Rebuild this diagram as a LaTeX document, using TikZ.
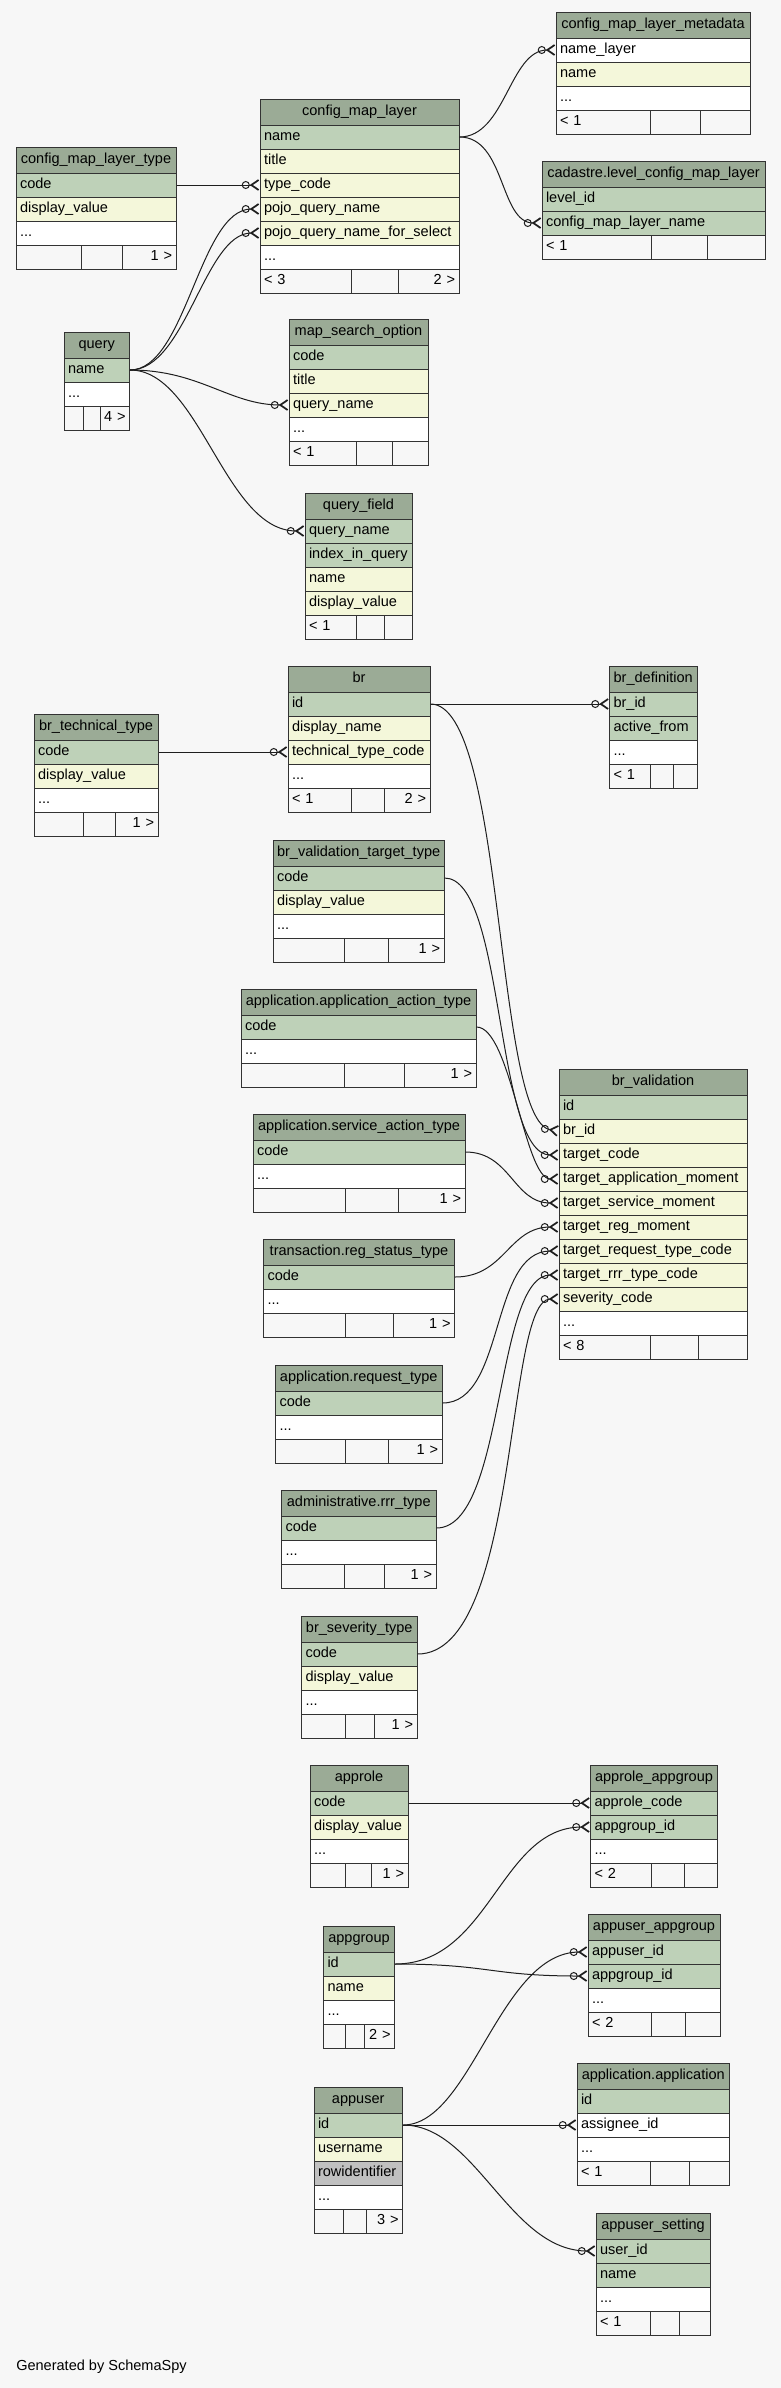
\documentclass[tikz,border=0pt]{standalone}
\usepackage{fontspec}
\setmainfont{Liberation Sans}
\usetikzlibrary{arrows.meta}
\hyphenpenalty=10000
\exhyphenpenalty=10000
\tikzset{crowodot/.tip={Circle[open,length=6pt,width=6pt,sep=0pt] Straight Barb[reversed,length=5.5pt,width=7.5pt,line width=1.3pt]}}

\begin{document}
\begin{tikzpicture}[x=0.75pt,y=0.75pt,yscale=-1,xscale=1,
  every node/.style={font=\fontsize{10.9}{13}\selectfont},
  rowc/.style={draw={rgb, 255:red, 51; green, 51; blue, 51 }, line width=0.75pt, minimum height=18pt, inner xsep=3pt, inner ysep=0pt, text height=8pt, text depth=2.5pt, align=left},
  tw/.style={text width=#1*0.75pt-6pt},
  hdr/.style={rowc, fill={rgb, 255:red, 155; green, 171; blue, 150 }, minimum height=19.5pt, align=center},
  pk/.style={rowc, fill={rgb, 255:red, 190; green, 209; blue, 184 }},
  idx/.style={rowc, fill={rgb, 255:red, 244; green, 247; blue, 218 }},
  col/.style={rowc, fill=white},
  gry/.style={rowc, fill={rgb, 255:red, 192; green, 192; blue, 192 }},
  ftl/.style={rowc, fill={rgb, 255:red, 247; green, 247; blue, 247 }, align=left},
  ftr/.style={rowc, fill={rgb, 255:red, 247; green, 247; blue, 247 }, align=right},
  fk/.style={draw={rgb, 255:red, 30; green, 30; blue, 30 }, line width=0.75pt, -{crowodot}}]

\path [use as bounding box, fill={rgb, 255:red, 247; green, 247; blue, 247 }] (0,0) rectangle (781,2388);

\begin{scope}[tw=194]
\node [hdr] (cmlm-h) at (653,25) {config\_map\_layer\_metadata};
\node [col] (cmlm-namelayer) at (653,50) {name\_layer};
\node [idx] (cmlm-name) at (653,74) {name};
\node [col] (cmlm-more) at (653,98) {...};
\node [ftl,tw=94] (cmlm-f1) at (603,122) {< 1};
\node [ftl,tw=50] (cmlm-f2) at (675,122) {};
\node [ftr,tw=50] (cmlm-f3) at (725,122) {};
\end{scope}

\begin{scope}[tw=199]
\node [hdr] (cml-h) at (359.5,112) {config\_map\_layer};
\node [pk] (cml-name) at (359.5,137) {name};
\node [idx] (cml-title) at (359.5,161) {title};
\node [idx] (cml-typecode) at (359.5,185) {type\_code};
\node [idx] (cml-pojo) at (359.5,209) {pojo\_query\_name};
\node [idx] (cml-pojosel) at (359.5,233) {pojo\_query\_name\_for\_select};
\node [col] (cml-more) at (359.5,257) {...};
\node [ftl,tw=91] (cml-f1) at (305.5,281) {< 3};
\node [ftl,tw=47] (cml-f2) at (374.5,281) {};
\node [ftr,tw=61] (cml-f3) at (428.5,281) {2 >};
\end{scope}

\begin{scope}[tw=160]
\node [hdr] (cmlt-h) at (96,160) {config\_map\_layer\_type};
\node [pk] (cmlt-code) at (96,185) {code};
\node [idx] (cmlt-display) at (96,209) {display\_value};
\node [col] (cmlt-more) at (96,233) {...};
\node [ftl,tw=65] (cmlt-f1) at (48.5,257) {};
\node [ftl,tw=41.5] (cmlt-f2) at (101.75,257) {};
\node [ftr,tw=53.5] (cmlt-f3) at (149.25,257) {1 >};
\end{scope}

\begin{scope}[tw=223]
\node [hdr] (lcml-h) at (653.5,174) {cadastre.level\_config\_map\_layer};
\node [pk] (lcml-levelid) at (653.5,199) {level\_id};
\node [pk] (lcml-cmlname) at (653.5,223) {config\_map\_layer\_name};
\node [ftl,tw=109] (lcml-f1) at (596.5,247) {< 1};
\node [ftl,tw=56] (lcml-f2) at (679,247) {};
\node [ftr,tw=58] (lcml-f3) at (736,247) {};
\end{scope}

\begin{scope}[tw=65.5]
\node [hdr] (query-h) at (96.75,345) {query};
\node [pk] (query-name) at (96.75,370) {name};
\node [col] (query-more) at (96.75,394) {...};
\node [ftl,tw=19] (query-f1) at (73.5,418) {};
\node [ftl,tw=17] (query-f2) at (91.5,418) {};
\node [ftr,tw=29.5] (query-f3) at (114.75,418) {4 >};
\end{scope}

\begin{scope}[tw=139]
\node [hdr] (mso-h) at (358.5,332) {map\_search\_option};
\node [pk] (mso-code) at (358.5,357) {code};
\node [idx] (mso-title) at (358.5,381) {title};
\node [idx] (mso-queryname) at (358.5,405) {query\_name};
\node [col] (mso-more) at (358.5,429) {...};
\node [ftl,tw=67] (mso-f1) at (322.5,453) {< 1};
\node [ftl,tw=36] (mso-f2) at (374,453) {};
\node [ftr,tw=36] (mso-f3) at (410,453) {};
\end{scope}

\begin{scope}[tw=107]
\node [hdr] (qf-h) at (358.5,506) {query\_field};
\node [pk] (qf-queryname) at (358.5,531) {query\_name};
\node [pk] (qf-index) at (358.5,555) {index\_in\_query};
\node [idx] (qf-name) at (358.5,579) {name};
\node [idx] (qf-display) at (358.5,603) {display\_value};
\node [ftl,tw=51] (qf-f1) at (330.5,627) {< 1};
\node [ftl,tw=28] (qf-f2) at (370,627) {};
\node [ftr,tw=28] (qf-f3) at (398,627) {};
\end{scope}

\begin{scope}[tw=142]
\node [hdr] (br-h) at (359,679) {br};
\node [pk] (br-id) at (359,704) {id};
\node [idx] (br-display) at (359,728) {display\_name};
\node [idx] (br-ttc) at (359,752) {technical\_type\_code};
\node [col] (br-more) at (359,776) {...};
\node [ftl,tw=63] (br-f1) at (319.5,800) {< 1};
\node [ftl,tw=33] (br-f2) at (367.5,800) {};
\node [ftr,tw=46] (br-f3) at (407,800) {2 >};
\end{scope}

\begin{scope}[tw=87.5]
\node [hdr] (brd-h) at (653.25,679) {br\_definition};
\node [pk] (brd-brid) at (653.25,704) {br\_id};
\node [pk] (brd-active) at (653.25,728) {active\_from};
\node [col] (brd-more) at (653.25,752) {...};
\node [ftl,tw=40.5] (brd-f1) at (629.75,776) {< 1};
\node [ftl,tw=23] (brd-f2) at (661.5,776) {};
\node [ftr,tw=24] (brd-f3) at (685,776) {};
\end{scope}

\begin{scope}[tw=124]
\node [hdr] (brtt-h) at (96,727) {br\_technical\_type};
\node [pk] (brtt-code) at (96,752) {code};
\node [idx] (brtt-display) at (96,776) {display\_value};
\node [col] (brtt-more) at (96,800) {...};
\node [ftl,tw=49] (brtt-f1) at (58.5,824) {};
\node [ftl,tw=32] (brtt-f2) at (99,824) {};
\node [ftr,tw=43] (brtt-f3) at (136.5,824) {1 >};
\end{scope}

\begin{scope}[tw=171]
\node [hdr] (bvtt-h) at (358.5,853) {br\_validation\_target\_type};
\node [pk] (bvtt-code) at (358.5,878) {code};
\node [idx] (bvtt-display) at (358.5,902) {display\_value};
\node [col] (bvtt-more) at (358.5,926) {...};
\node [ftl,tw=71] (bvtt-f1) at (308.5,950) {};
\node [ftl,tw=44] (bvtt-f2) at (366,950) {};
\node [ftr,tw=56] (bvtt-f3) at (416,950) {1 >};
\end{scope}

\begin{scope}[tw=235]
\node [hdr] (aat-h) at (358.5,1002) {application.application\_action\_type};
\node [pk] (aat-code) at (358.5,1027) {code};
\node [col] (aat-more) at (358.5,1051) {...};
\node [ftl,tw=103] (aat-f1) at (292.5,1075) {};
\node [ftl,tw=60] (aat-f2) at (374,1075) {};
\node [ftr,tw=72] (aat-f3) at (440,1075) {1 >};
\end{scope}

\begin{scope}[tw=212]
\node [hdr] (sat-h) at (359,1127) {application.service\_action\_type};
\node [pk] (sat-code) at (359,1152) {code};
\node [col] (sat-more) at (359,1176) {...};
\node [ftl,tw=92] (sat-f1) at (299,1200) {};
\node [ftl,tw=53] (sat-f2) at (371.5,1200) {};
\node [ftr,tw=67] (sat-f3) at (431.5,1200) {1 >};
\end{scope}

\begin{scope}[tw=191]
\node [hdr] (rst-h) at (359,1252) {transaction.reg\_status\_type};
\node [pk] (rst-code) at (359,1277) {code};
\node [col] (rst-more) at (359,1301) {...};
\node [ftl,tw=81.5] (rst-f1) at (304.25,1325) {};
\node [ftl,tw=48] (rst-f2) at (369,1325) {};
\node [ftr,tw=61.5] (rst-f3) at (423.75,1325) {1 >};
\end{scope}

\begin{scope}[tw=188]
\node [hdr] (brv-h) at (653,1082) {br\_validation};
\node [pk] (brv-id) at (653,1107) {id};
\node [idx] (brv-brid) at (653,1131) {br\_id};
\node [idx] (brv-tc) at (653,1155) {target\_code};
\node [idx] (brv-tam) at (653,1179) {target\_application\_moment};
\node [idx] (brv-tsm) at (653,1203) {target\_service\_moment};
\node [idx] (brv-trm) at (653,1227) {target\_reg\_moment};
\node [idx] (brv-trtc) at (653,1251) {target\_request\_type\_code};
\node [idx] (brv-trrr) at (653,1275) {target\_rrr\_type\_code};
\node [idx] (brv-sev) at (653,1299) {severity\_code};
\node [col] (brv-more) at (653,1323) {...};
\node [ftl,tw=91] (brv-f1) at (604.5,1347) {< 8};
\node [ftl,tw=48] (brv-f2) at (674,1347) {};
\node [ftr,tw=49] (brv-f3) at (722.5,1347) {};
\end{scope}

\begin{scope}[tw=166.5]
\node [hdr] (rqt-h) at (358.75,1378) {application.request\_type};
\node [pk] (rqt-code) at (358.75,1403) {code};
\node [col] (rqt-more) at (358.75,1427) {...};
\node [ftl,tw=69.5] (rqt-f1) at (310.25,1451) {};
\node [ftl,tw=43] (rqt-f2) at (366.5,1451) {};
\node [ftr,tw=54] (rqt-f3) at (415,1451) {1 >};
\end{scope}

\begin{scope}[tw=154.5]
\node [hdr] (rrr-h) at (358.75,1503) {administrative.rrr\_type};
\node [pk] (rrr-code) at (358.75,1528) {code};
\node [col] (rrr-more) at (358.75,1552) {...};
\node [ftl,tw=62.5] (rrr-f1) at (312.75,1576) {};
\node [ftl,tw=40] (rrr-f2) at (364,1576) {};
\node [ftr,tw=52] (rrr-f3) at (410,1576) {1 >};
\end{scope}

\begin{scope}[tw=115.5]
\node [hdr] (bst-h) at (359.25,1629) {br\_severity\_type};
\node [pk] (bst-code) at (359.25,1654) {code};
\node [idx] (bst-display) at (359.25,1678) {display\_value};
\node [col] (bst-more) at (359.25,1702) {...};
\node [ftl,tw=43.5] (bst-f1) at (323.25,1726) {};
\node [ftl,tw=29.5] (bst-f2) at (359.75,1726) {};
\node [ftr,tw=42.5] (bst-f3) at (395.75,1726) {1 >};
\end{scope}

\begin{scope}[tw=98]
\node [hdr] (approle-h) at (359,1778) {approle};
\node [pk] (approle-code) at (359,1803) {code};
\node [idx] (approle-display) at (359,1827) {display\_value};
\node [col] (approle-more) at (359,1851) {...};
\node [ftl,tw=35] (approle-f1) at (327.5,1875) {};
\node [ftl,tw=26] (approle-f2) at (358,1875) {};
\node [ftr,tw=37] (approle-f3) at (389.5,1875) {1 >};
\end{scope}

\begin{scope}[tw=127]
\node [hdr] (raag-h) at (654,1778) {approle\_appgroup};
\node [pk] (raag-approle) at (654,1803) {approle\_code};
\node [pk] (raag-appgroup) at (654,1827) {appgroup\_id};
\node [col] (raag-more) at (654,1851) {...};
\node [ftl,tw=60.5] (raag-f1) at (620.75,1875) {< 2};
\node [ftl,tw=33] (raag-f2) at (667.5,1875) {};
\node [ftr,tw=33.5] (raag-f3) at (700.75,1875) {};
\end{scope}

\begin{scope}[tw=71]
\node [hdr] (appgroup-h) at (359,1939) {appgroup};
\node [pk] (appgroup-id) at (359,1964) {id};
\node [idx] (appgroup-name) at (359,1988) {name};
\node [col] (appgroup-more) at (359,2012) {...};
\node [ftl,tw=21.5] (appgroup-f1) at (334.25,2036) {};
\node [ftl,tw=19] (appgroup-f2) at (354.5,2036) {};
\node [ftr,tw=30.5] (appgroup-f3) at (379.25,2036) {2 >};
\end{scope}

\begin{scope}[tw=132]
\node [hdr] (uag-h) at (654,1927) {appuser\_appgroup};
\node [pk] (uag-appuser) at (654,1952) {appuser\_id};
\node [pk] (uag-appgroup) at (654,1976) {appgroup\_id};
\node [col] (uag-more) at (654,2000) {...};
\node [ftl,tw=63] (uag-f1) at (619.5,2024) {< 2};
\node [ftl,tw=34] (uag-f2) at (668,2024) {};
\node [ftr,tw=35] (uag-f3) at (702.5,2024) {};
\end{scope}

\begin{scope}[tw=152.5]
\node [hdr] (app-h) at (653.25,2076) {application.application};
\node [pk] (app-id) at (653.25,2101) {id};
\node [col] (app-assignee) at (653.25,2125) {assignee\_id};
\node [col] (app-more) at (653.25,2149) {...};
\node [ftl,tw=73] (app-f1) at (613.5,2173) {< 1};
\node [ftl,tw=39] (app-f2) at (669.5,2173) {};
\node [ftr,tw=40.5] (app-f3) at (709.25,2173) {};
\end{scope}

\begin{scope}[tw=88.5]
\node [hdr] (appuser-h) at (358.25,2100) {appuser};
\node [pk] (appuser-id) at (358.25,2125) {id};
\node [idx] (appuser-username) at (358.25,2149) {username};
\node [gry] (appuser-rowid) at (358.25,2173) {rowidentifier};
\node [col] (appuser-more) at (358.25,2197) {...};
\node [ftl,tw=29.5] (appuser-f1) at (328.75,2221) {};
\node [ftl,tw=23] (appuser-f2) at (355,2221) {};
\node [ftr,tw=36] (appuser-f3) at (384.5,2221) {3 >};
\end{scope}

\begin{scope}[tw=114]
\node [hdr] (ust-h) at (653,2226) {appuser\_setting};
\node [pk] (ust-userid) at (653,2251) {user\_id};
\node [pk] (ust-name) at (653,2275) {name};
\node [col] (ust-more) at (653,2299) {...};
\node [ftl,tw=54] (ust-f1) at (623,2323) {< 1};
\node [ftl,tw=29] (ust-f2) at (664.5,2323) {};
\node [ftr,tw=31] (ust-f3) at (694.5,2323) {};
\end{scope}

\node [anchor=west, inner sep=0pt] (gen) at (16,2367) {Generated by SchemaSpy};

\draw [fk] (cml-name.east) .. controls +(46,0) and +(-46,0) .. (cmlm-namelayer.west);
\draw [fk] (cml-name.east) .. controls +(46,0) and +(-42,0) .. (lcml-cmlname.west);
\draw [fk] (cmlt-code.east) -- (cml-typecode.west);
\draw [fk] (query-name.east) .. controls +(56,0) and +(-60,0) .. (cml-pojo.west);
\draw [fk] (query-name.east) .. controls +(56,0) and +(-55,0) .. (cml-pojosel.west);
\draw [fk] (query-name.east) .. controls +(70,0) and +(-59,0) .. (mso-queryname.west);
\draw [fk] (query-name.east) .. controls +(70,0) and +(-80,0) .. (qf-queryname.west);
\draw [fk] (br-id.east) -- (brd-brid.west);
\draw [fk] (brtt-code.east) -- (br-ttc.west);
\draw [fk] (br-id.east) .. controls +(75,0) and +(-64,-10) .. (brv-brid.west);
\draw [fk] (bvtt-code.east) .. controls +(61,0) and +(-64,0) .. (brv-tc.west);
\draw [fk] (aat-code.east) .. controls +(34,0) and +(-34,0) .. (brv-tam.west);
\draw [fk] (sat-code.east) .. controls +(45,0) and +(-45,0) .. (brv-tsm.west);
\draw [fk] (rst-code.east) .. controls +(50,0) and +(-50,0) .. (brv-trm.west);
\draw [fk] (rqt-code.east) .. controls +(63,0) and +(-69,0) .. (brv-trtc.west);
\draw [fk] (rrr-code.east) .. controls +(69,0) and +(-64,0) .. (brv-trrr.west);
\draw [fk] (bst-code.east) .. controls +(103,0) and +(-54,0) .. (brv-sev.west);
\draw [fk] (approle-code.east) -- (raag-approle.west);
\draw [fk] (appgroup-id.east) .. controls +(95,0) and +(-90,0) .. (raag-appgroup.west);
\draw [fk] (appgroup-id.east) .. controls +(95,0) and +(-98,0) .. (uag-appgroup.west);
\draw [fk] (appuser-id.east) .. controls +(68,0) and +(-88,0) .. (uag-appuser.west);
\draw [fk] (appuser-id.east) -- (app-assignee.west);
\draw [fk] (appuser-id.east) .. controls +(73,0) and +(-86,0) .. (ust-userid.west);
\end{tikzpicture}
\end{document}
